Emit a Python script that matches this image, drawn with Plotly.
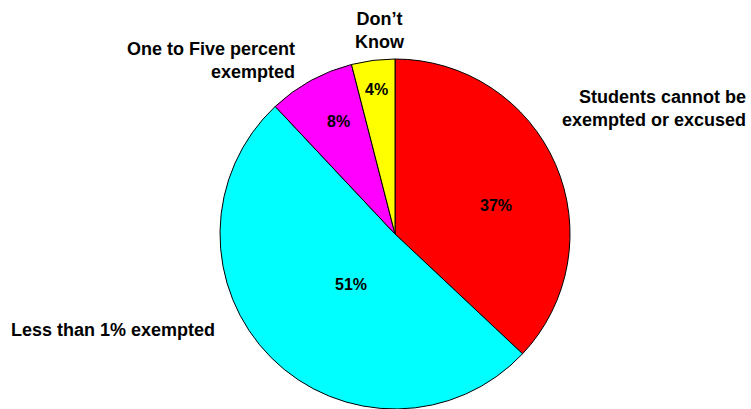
import math
import plotly.graph_objects as go

labels = ["Students cannot be exempted or excused", "Less than 1% exempted",
          "One to Five percent exempted", "Don\u2019t Know"]
values = [37, 51, 8, 4]
colors = ["#FF0000", "#00FFFF", "#FF00FF", "#FFFF00"]

W, H = 751, 409
CX, CY, R = 395, 234, 175

fig = go.Figure(go.Pie(
    labels=labels, values=values, sort=False, direction="clockwise", rotation=0,
    marker=dict(colors=colors, line=dict(color="black", width=1)),
    textinfo="none", showlegend=False, hoverinfo="label+percent",
    domain=dict(x=[(CX - R) / W, (CX + R) / W], y=[(H - CY - R) / H, (H - CY + R) / H]),
))

# percent labels inside slices (radial fraction, angle tweak in degrees)
placement = [(0.60, 7.4), (0.38, -4.0), (0.72, 2.0), (0.83, 0.0)]
total = sum(values)
cum = 0
pct_font = dict(family="Liberation Sans, Arial", size=16, color="black", weight="bold")
for v, (f, da) in zip(values, placement):
    mid = (cum + v / 2) / total * 360 + da
    cum += v
    x = CX + f * R * math.sin(math.radians(mid))
    y = CY - f * R * math.cos(math.radians(mid))
    fig.add_annotation(text=f"{round(v / total * 100)}%", x=x / W, y=1 - y / H,
                       xref="paper", yref="paper", xanchor="center", yanchor="middle",
                       showarrow=False, font=pct_font)

ann_font = dict(family="Liberation Sans, Arial", size=18, color="black", weight="bold")
anns = [
    dict(text="Students cannot be<br>exempted or excused", x=748, y=108, xanchor="right", align="right"),
    dict(text="Don\u2019t<br>Know", x=380, y=30, xanchor="center", align="center"),
    dict(text="One to Five percent<br>exempted", x=297, y=60, xanchor="right", align="right"),
    dict(text="Less than 1% exempted", x=9, y=330, xanchor="left", align="left"),
]
for a in anns:
    fig.add_annotation(text=a["text"], x=a["x"] / W, y=1 - a["y"] / H, xref="paper", yref="paper",
                       xanchor=a["xanchor"], yanchor="middle", align=a["align"],
                       showarrow=False, font=ann_font)

fig.update_layout(width=W, height=H, margin=dict(l=0, r=0, t=0, b=0),
                  paper_bgcolor="white", plot_bgcolor="white")
fig.write_html("out.html", config={"displayModeBar": False},
               post_script="document.body.style.margin='0';")
